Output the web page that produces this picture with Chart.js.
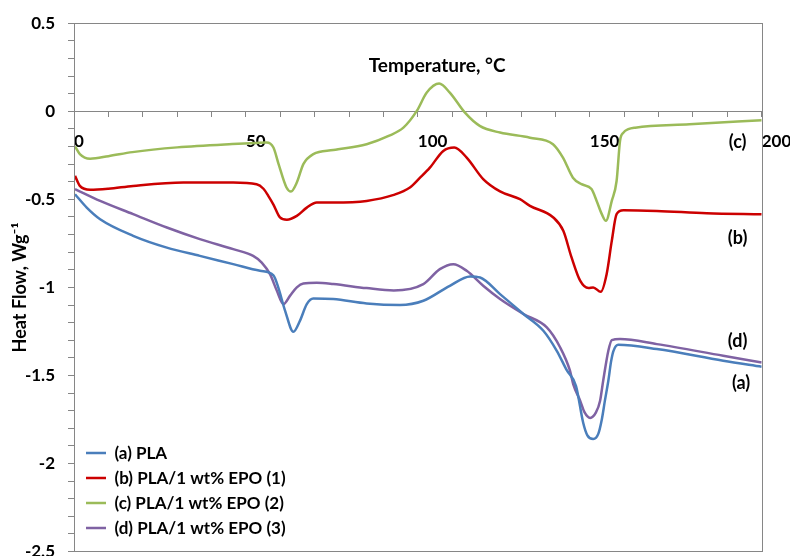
<!DOCTYPE html>
<html>
<head>
<meta charset="utf-8">
<script src="https://cdn.jsdelivr.net/npm/chart.js@4"></script>
<style>
  html, body { margin: 0; padding: 0; overflow: hidden; background: #ffffff; }
  #wrap { width: 790px; height: 580px; }
</style>
</head>
<body>
<div id="wrap"><canvas id="dsc" width="790" height="580"></canvas></div>
<script>
// DSC heating scans: heat flow (W/g) against temperature (°C)
const seriesNames = ['(a) PLA', '(b) PLA/1 wt% EPO (1)', '(c) PLA/1 wt% EPO (2)', '(d) PLA/1 wt% EPO (3)'];

const tempA = [0.3, 3.7, 7.6, 17.2, 27, 36.6, 46.3, 54.1, 58, 59.4, 61.4, 63.8, 65.7, 67.7, 69.6, 75.4, 85.1, 94.8, 101.6, 109.3, 115.2, 118.1, 123.9, 130.7, 136.5, 140.4, 143.3, 146, 148.1, 149.3, 151, 152.5, 153.5, 154.4, 155.4, 156.2, 156.9, 158.3, 169.5, 188.8, 200];
const heatA = [-0.471, -0.547, -0.613, -0.707, -0.774, -0.821, -0.868, -0.906, -0.932, -1.0, -1.133, -1.252, -1.19, -1.095, -1.063, -1.066, -1.091, -1.1, -1.076, -0.991, -0.938, -0.944, -1.038, -1.151, -1.246, -1.36, -1.47, -1.56, -1.77, -1.84, -1.861, -1.83, -1.75, -1.643, -1.53, -1.42, -1.36, -1.326, -1.35, -1.416, -1.45];

const tempB = [0.3, 1.7, 4.7, 10, 17.2, 31.8, 46.3, 53.1, 55.1, 56.5, 58, 59.9, 61.9, 64.8, 67.7, 70.6, 75.4, 85.1, 93, 97.7, 100.5, 103.5, 107.4, 110.6, 114.2, 119, 123.9, 129.7, 132.6, 139.4, 142.3, 144.7, 147.2, 149.6, 151, 153.2, 154.9, 156.4, 157.8, 159.8, 169.5, 184, 200];
const heatB = [-0.367, -0.424, -0.446, -0.44, -0.424, -0.405, -0.405, -0.414, -0.44, -0.48, -0.53, -0.603, -0.616, -0.594, -0.547, -0.518, -0.518, -0.509, -0.475, -0.433, -0.38, -0.32, -0.225, -0.206, -0.263, -0.385, -0.455, -0.499, -0.537, -0.603, -0.679, -0.83, -0.962, -1.004, -1.0, -1.025, -0.925, -0.736, -0.584, -0.562, -0.566, -0.579, -0.585];

const tempC = [0.3, 1.7, 4.7, 10, 17, 30, 46, 53, 56, 58, 59.5, 61.8, 63.1, 64.8, 66.7, 69.6, 75.4, 85.1, 91.5, 95.8, 99.7, 102.6, 106.2, 109.3, 113.7, 118, 123.9, 132.6, 139.3, 142.2, 145.1, 147.6, 150.5, 152, 153.5, 154.7, 156.4, 157.8, 158.8, 159.8, 161.2, 163.2, 179, 200];
const heatC = [-0.2, -0.243, -0.269, -0.255, -0.232, -0.205, -0.186, -0.18, -0.178, -0.206, -0.3, -0.433, -0.456, -0.405, -0.3, -0.243, -0.22, -0.187, -0.14, -0.093, 0.002, 0.106, 0.157, 0.106, -0.008, -0.083, -0.121, -0.15, -0.187, -0.263, -0.377, -0.414, -0.442, -0.509, -0.584, -0.622, -0.509, -0.396, -0.168, -0.121, -0.102, -0.093, -0.074, -0.051];

const tempD = [0.3, 7.6, 17.2, 27, 36.6, 46.3, 52.1, 54.6, 57, 59, 60.9, 62.8, 64.8, 66.7, 70.6, 75.4, 85.1, 93, 101.6, 106.4, 110.3, 114.2, 119, 123.9, 130.7, 137.5, 141.4, 144.2, 145.2, 147.2, 148.5, 150.1, 151.8, 153, 153.9, 155.4, 156.4, 158.8, 169.5, 188.8, 200];
const heatD = [-0.442, -0.509, -0.584, -0.66, -0.726, -0.783, -0.821, -0.859, -0.925, -1.019, -1.095, -1.048, -1.0, -0.978, -0.974, -0.981, -1.004, -1.017, -0.981, -0.896, -0.868, -0.906, -0.991, -1.066, -1.151, -1.227, -1.341, -1.47, -1.55, -1.643, -1.71, -1.741, -1.71, -1.643, -1.53, -1.36, -1.299, -1.293, -1.322, -1.388, -1.426];

const xTickLabels = ['0', '50', '100', '150', '200'];
const yTickLabels = ['0.5', '0', '-0.5', '-1', '-1.5', '-2', '-2.5'];

// curve tags placed at (temperature, heat flow)
const seriesTags = ['(a)', '(b)', '(c)', '(d)'];
const tagTemp = [194, 193, 193, 193];
const tagHeat = [-1.541, -0.719, -0.174, -1.303];

const xTitle = 'Temperature, °C';
const xTitleAt = [105.6, 0.257];

const seriesColors = ['#4a7ebb', '#cc0000', '#9bbb59', '#7f62a3'];
const temps = [tempA, tempB, tempC, tempD];
const heats = [heatA, heatB, heatC, heatD];

const FONT = 'Lato, "Open Sans", "DejaVu Sans", sans-serif';
Chart.defaults.font.family = FONT;
Chart.defaults.color = '#000000';

const overlay = {
  id: 'overlay',
  afterLayout(chart) {
    // keep the legend block in the lower-left corner of the plot
    const lg = chart.legend;
    if (lg) {
      lg.left = chart.chartArea.left + 4;
      lg.bottom = chart.chartArea.bottom - 7;
    }
  },
  afterDraw(chart) {
    const { ctx, chartArea: a, scales: { x, y } } = chart;
    ctx.save();
    ctx.strokeStyle = '#868686';
    ctx.lineWidth = 1;
    ctx.strokeRect(Math.round(a.left) + 0.5, Math.round(a.top) + 0.5,
                   Math.round(a.right - a.left), Math.round(a.bottom - a.top));
    ctx.fillStyle = '#000000';
    ctx.textAlign = 'center';
    ctx.textBaseline = 'middle';
    ctx.font = 'bold 19px ' + FONT;
    ctx.fillText(xTitle, x.getPixelForValue(xTitleAt[0]), y.getPixelForValue(xTitleAt[1]));
    ctx.font = 'bold 18px ' + FONT;
    seriesTags.forEach((t, i) => {
      ctx.fillText(t, x.getPixelForValue(tagTemp[i]), y.getPixelForValue(tagHeat[i]));
    });
    ctx.restore();
  }
};

new Chart(document.getElementById('dsc'), {
  type: 'line',
  data: {
    datasets: seriesNames.map((name, i) => ({
      label: name,
      data: temps[i].map((t, j) => ({ x: t, y: heats[i][j] })),
      borderColor: seriesColors[i],
      backgroundColor: seriesColors[i],
      borderWidth: 2.5,
      pointRadius: 0,
      cubicInterpolationMode: 'monotone',
      fill: false
    }))
  },
  options: {
    responsive: false,
    animation: false,
    layout: { padding: { left: 0, top: 22.7, right: 28.3, bottom: 28.4 } },
    scales: {
      x: {
        type: 'linear',
        min: 0,
        max: 200,
        position: { y: 0 },
        afterBuildTicks: (ax) => {
          const t = [];
          for (let v = 0; v <= 200; v += 10) t.push({ value: v });
          ax.ticks = t;
        },
        afterFit: (ax) => { ax.paddingLeft = 0; ax.paddingRight = 0; },
        ticks: {
          autoSkip: false,
          maxRotation: 0,
          align: 'start',
          padding: 15,
          color: '#000000',
          font: { size: 17, weight: 'bold' },
          callback: (v) => xTickLabels.includes(String(v)) ? String(v) : ''
        },
        grid: { drawOnChartArea: false, tickLength: 5, color: '#868686' },
        border: { color: '#868686' }
      },
      y: {
        min: -2.5,
        max: 0.5,
        afterBuildTicks: (ax) => {
          const t = [];
          for (let i = 0; i <= 30; i++) t.push({ value: Math.round((0.5 - i * 0.1) * 10) / 10 });
          ax.ticks = t;
        },
        afterFit: (ax) => { ax.width = 74; },
        ticks: {
          autoSkip: false,
          padding: 13,
          color: '#000000',
          font: { size: 17, weight: 'bold' },
          callback: (v) => yTickLabels.includes(String(v)) ? String(v) : ''
        },
        grid: { drawOnChartArea: false, tickLength: 6, color: '#868686' },
        border: { color: '#868686' },
        title: {
          display: true,
          text: 'Heat Flow, Wg⁻¹',
          color: '#000000',
          font: { size: 18, weight: 'bold' },
          padding: { top: 9, bottom: 0 }
        }
      }
    },
    plugins: {
      legend: {
        position: 'chartArea',
        align: 'end',
        labels: {
          usePointStyle: true,
          pointStyle: 'line',
          pointStyleWidth: 20,
          padding: 8,
          color: '#000000',
          font: { size: 17, weight: 'bold' }
        }
      },
      tooltip: { enabled: false }
    }
  },
  plugins: [overlay]
});
</script>
</body>
</html>
